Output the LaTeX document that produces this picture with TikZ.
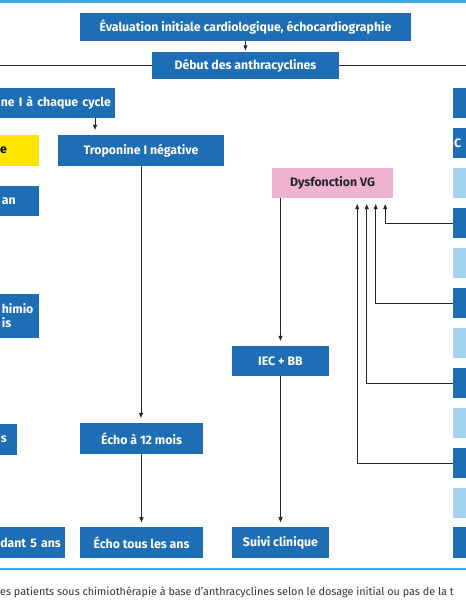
\documentclass[tikz,border=0pt]{standalone}
\usepackage{fontspec}
\setsansfont{Fira Sans}
\usetikzlibrary{arrows.meta, positioning, calc}

\definecolor{boxblue}{HTML}{1E6EB6}
\definecolor{paleblue}{HTML}{A3D3F1}
\definecolor{tropyellow}{HTML}{FFE500}
\definecolor{dysfpink}{HTML}{EFB2D2}
\definecolor{rulecol}{HTML}{3BA7DA}

\begin{document}
\begin{tikzpicture}[
  x=1pt, y=-1pt,
  >={Triangle[width=4pt,length=5pt]},
  blk/.style={fill=boxblue, text=white, minimum height=30pt, inner ysep=0pt,
    font=\sffamily\bfseries\fontsize{12.3}{14}\selectfont},
  pale/.style={fill=paleblue, minimum height=30pt, minimum width=30pt, anchor=west},
  arr/.style={->, line width=0.6pt, black!85, shorten >=5pt},
  wire/.style={line width=0.6pt, black!85},
]

\useasboundingbox (0,0) rectangle (466,600);
\clip (0,0) rectangle (466,600);

% Rules
\draw[rulecol, line width=2.5pt] (0,1.3) -- (466,1.3);
\draw[rulecol, line width=1.6pt] (0,569) -- (466,569);

% Top
\node[blk, minimum width=331pt, minimum height=28pt] (eval) at (245.5,27) {Évaluation initiale cardiologique, échocardiographie};
\node[blk, minimum width=187pt, minimum height=27pt] (debut) at (245.5,65.5) {Début des anthracyclines};
\coordinate (lend) at (0,65.5);
\coordinate (rend) at (466,65.5);

\draw[arr, shorten >=1.5pt] (eval) -- (debut);
\draw[wire] (debut.west) -- (lend);
\draw[wire] (debut.east) -- (rend);

% Left branch (cut off)
\node[blk, anchor=east, text width=130pt, align=right, inner xsep=4pt] (chaque) at (115,103) {ne I à chaque cycle};
\node[blk, fill=tropyellow, text=black, anchor=east, text width=20pt, align=right, inner xsep=32pt, minimum height=31pt] (pos) at (39,150.5) {e};
\node[blk, anchor=east, text width=20pt, align=right, inner xsep=23pt] (an) at (39,201) {an};
\node[blk, anchor=east, text width=35pt, align=left, inner xsep=2pt, minimum height=44pt] (chimio) at (39,316) {himio\\is};
\node[blk, anchor=east, text width=10pt, align=right, inner xsep=10pt, minimum height=31pt] (sbox) at (17,439) {s};
\node[blk, anchor=east, text width=80pt, align=right, inner xsep=4pt, minimum height=31pt] (dant) at (65,542.5) {dant 5 ans};

% Troponine negative
\node[blk, minimum width=166pt, minimum height=31pt] (neg) at (141,150.5) {Troponine I négative};
\node[blk, minimum width=123pt, minimum height=31pt] (echo12) at (141.5,438.5) {Écho à 12 mois};
\node[blk, minimum width=123pt, minimum height=31pt, below=73pt of echo12] (echoans) {Écho tous les ans};

\draw[arr] ([xshift=-20pt]chaque.south east) -- ([xshift=-20pt]chaque.south east |- neg.north);
\draw[arr] (neg.south) -- (neg.south |- echo12.north);
\draw[arr] (echo12) -- (echoans);

% Dysfonction VG
\node[blk, fill=dysfpink, text=black!85, minimum width=121pt] (dysf) at (332.5,183) {Dysfonction VG};
\node[blk, minimum width=97pt] (iec) at (280.5,361) {IEC + BB};
\node[blk, minimum width=97pt, minimum height=31pt, below=151pt of iec] (suivi) {Suivi clinique};

\draw[arr] (iec.north |- dysf.south) -- (iec.north);
\draw[arr] (iec) -- (suivi);

% Right branch (cut off)
\node[blk, anchor=west, minimum width=30pt] (r1) at (453,103) {};
\node[blk, anchor=west, text width=20pt, align=left, inner xsep=1pt] (r2) at (453,143) {C};
\node[pale] (r3) at (453,183) {};
\node[blk, anchor=west, minimum width=30pt] (r4) at (453,223) {};
\node[pale] (r5) at (453,263) {};
\node[blk, anchor=west, minimum width=30pt] (r6) at (453,303) {};
\node[pale] (r7) at (453,343) {};
\node[blk, anchor=west, minimum width=30pt] (r8) at (453,383) {};
\node[pale] (r9) at (453,423) {};
\node[blk, anchor=west, minimum width=30pt] (r10) at (453,463) {};
\node[pale] (r11) at (453,503) {};
\node[blk, anchor=west, minimum width=30pt, minimum height=31pt] (r12) at (453,542.5) {};

\draw[arr, shorten >=6pt] (r4.west) -| ([xshift=-8pt]dysf.south east);
\draw[arr, shorten >=6pt] (r6.west) -| ([xshift=-17.5pt]dysf.south east);
\draw[arr, shorten >=6pt] (r8.west) -| ([xshift=-26.5pt]dysf.south east);
\draw[arr, shorten >=6pt] (r10.west) -| ([xshift=-36pt]dysf.south east);

% Legend
\node[anchor=base west, inner sep=0pt, font=\sffamily\fontsize{10.8}{12}\selectfont, text=black!80] (legend) at (0,595) {es patients sous chimiothérapie à base d'anthracyclines selon le dosage initial ou pas de la t};

\end{tikzpicture}
\end{document}
